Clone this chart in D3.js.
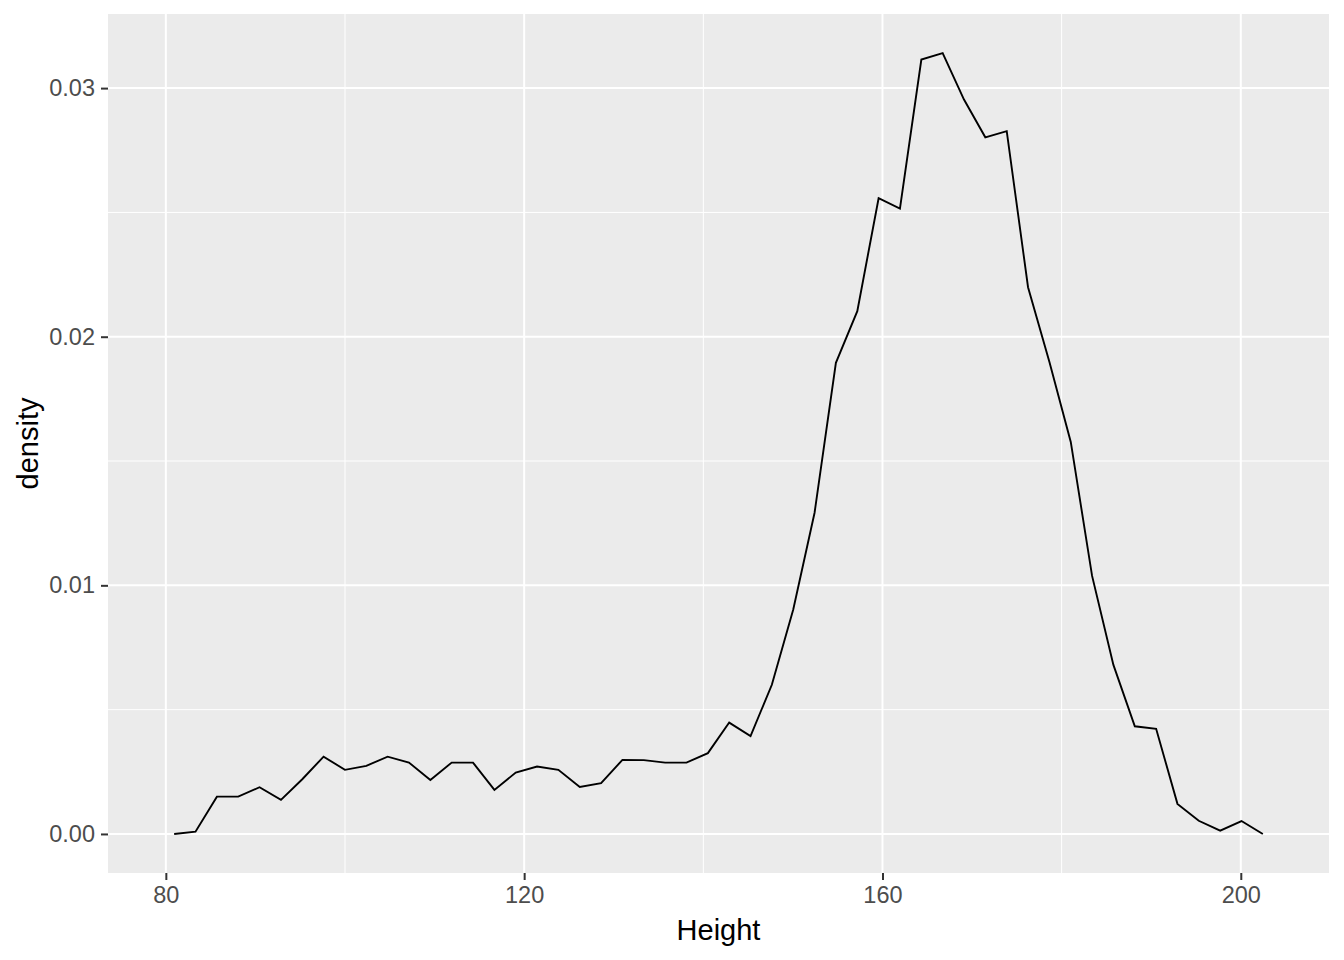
<!DOCTYPE html>
<html>
<head>
<meta charset="utf-8">
<script src="https://cdn.jsdelivr.net/npm/d3@7"></script>
<style>
  html, body { margin: 0; padding: 0; background: #ffffff; }
  svg { display: block; }
  text { font-family: "Liberation Sans", Arial, sans-serif; }
</style>
</head>
<body>
<svg id="chart" width="1344" height="960"></svg>
<script>
// Bin centres (Height)
const heights = [
  80.93, 83.31, 85.70, 88.08, 90.46, 92.85, 95.23, 97.61, 99.99, 102.38,
  104.76, 107.14, 109.53, 111.91, 114.29, 116.68, 119.06, 121.44, 123.82, 126.21,
  128.59, 130.97, 133.36, 135.74, 138.12, 140.51, 142.89, 145.27, 147.65, 150.04,
  152.42, 154.80, 157.19, 159.57, 161.95, 164.34, 166.72, 169.10, 171.48, 173.87,
  176.25, 178.63, 181.02, 183.40, 185.78, 188.17, 190.55, 192.93, 195.31, 197.70,
  200.08, 202.46
];
// Density values
const densities = [
  0.00000, 0.00009, 0.00150, 0.00150, 0.00188, 0.00137, 0.00220, 0.00311, 0.00258, 0.00274,
  0.00311, 0.00287, 0.00217, 0.00287, 0.00287, 0.00177, 0.00247, 0.00271, 0.00258, 0.00189,
  0.00204, 0.00298, 0.00297, 0.00287, 0.00287, 0.00325, 0.00448, 0.00394, 0.00600, 0.00903,
  0.01292, 0.01895, 0.02103, 0.02557, 0.02515, 0.03115, 0.03141, 0.02954, 0.02802, 0.02827,
  0.02199, 0.01899, 0.01577, 0.01038, 0.00680, 0.00433, 0.00423, 0.00121, 0.00053, 0.00013,
  0.00052, 0.00000
];
const binWidth = 2.383;
const xTicks = [80, 120, 160, 200];
const xMinor = [60, 100, 140, 180, 220];
const yTicks = [0, 0.01, 0.02, 0.03];
const yMinor = [0.005, 0.015, 0.025];
const yTickLabels = ["0.00", "0.01", "0.02", "0.03"];
const xTitle = "Height";
const yTitle = "density";

const panel = { left: 108, right: 1329, top: 14, bottom: 873 };

// x domain: bin edges, expanded 5%
const xLo = d3.min(heights) - binWidth / 2, xHi = d3.max(heights) + binWidth / 2;
const xPad = (xHi - xLo) * 0.05;
const x = d3.scaleLinear().domain([xLo - xPad, xHi + xPad]).range([panel.left, panel.right]);
const yLo = 0, yHi = d3.max(densities);
const yPad = (yHi - yLo) * 0.05;
const y = d3.scaleLinear().domain([yLo - yPad, yHi + yPad]).range([panel.bottom, panel.top]);

const svg = d3.select("#chart");

svg.append("rect")
  .attr("x", panel.left).attr("y", panel.top)
  .attr("width", panel.right - panel.left).attr("height", panel.bottom - panel.top)
  .attr("fill", "#EBEBEB");

const grid = svg.append("g");
const [dx0, dx1] = x.domain();
const [dy0, dy1] = y.domain();
// minor grid
grid.selectAll("line.xminor").data(xMinor.filter(v => v >= dx0 && v <= dx1)).join("line")
  .attr("x1", d => x(d)).attr("x2", d => x(d))
  .attr("y1", panel.top).attr("y2", panel.bottom)
  .attr("stroke", "#ffffff").attr("stroke-width", 1);
grid.selectAll("line.yminor").data(yMinor.filter(v => v >= dy0 && v <= dy1)).join("line")
  .attr("y1", d => y(d)).attr("y2", d => y(d))
  .attr("x1", panel.left).attr("x2", panel.right)
  .attr("stroke", "#ffffff").attr("stroke-width", 1);
// major grid
grid.append("g").selectAll("line").data(xTicks).join("line")
  .attr("x1", d => x(d)).attr("x2", d => x(d))
  .attr("y1", panel.top).attr("y2", panel.bottom)
  .attr("stroke", "#ffffff").attr("stroke-width", 2);
grid.append("g").selectAll("line").data(yTicks).join("line")
  .attr("y1", d => y(d)).attr("y2", d => y(d))
  .attr("x1", panel.left).attr("x2", panel.right)
  .attr("stroke", "#ffffff").attr("stroke-width", 2);

// line
const pts = heights.map((h, i) => [h, densities[i]]);
svg.append("path")
  .datum(pts)
  .attr("fill", "none")
  .attr("stroke", "#000000")
  .attr("stroke-width", 1.9)
  .attr("stroke-linejoin", "miter")
  .attr("d", d3.line().x(d => x(d[0])).y(d => y(d[1])));

// axes
const xAxis = d3.axisBottom(x).tickValues(xTicks).tickSize(7).tickPadding(6).tickFormat(d3.format("d"));
const gx = svg.append("g").attr("transform", `translate(0,${panel.bottom})`).call(xAxis);
gx.select(".domain").remove();
gx.selectAll(".tick line").attr("stroke", "#333333").attr("stroke-width", 2);
gx.selectAll(".tick text").attr("fill", "#4D4D4D").attr("font-size", 23.5)
  .attr("font-family", "Liberation Sans, Arial, sans-serif");

const yAxis = d3.axisLeft(y).tickValues(yTicks).tickSize(7).tickPadding(6)
  .tickFormat((d, i) => yTickLabels[i]);
const gy = svg.append("g").attr("transform", `translate(${panel.left},0)`).call(yAxis);
gy.select(".domain").remove();
gy.selectAll(".tick line").attr("stroke", "#333333").attr("stroke-width", 2);
gy.selectAll(".tick text").attr("fill", "#4D4D4D").attr("font-size", 23.5)
  .attr("font-family", "Liberation Sans, Arial, sans-serif");

// titles
svg.append("text")
  .attr("x", (panel.left + panel.right) / 2).attr("y", 940)
  .attr("text-anchor", "middle").attr("font-size", 29).attr("fill", "#000000")
  .text(xTitle);
svg.append("text")
  .attr("transform", `translate(38,${(panel.top + panel.bottom) / 2}) rotate(-90)`)
  .attr("text-anchor", "middle").attr("font-size", 29).attr("fill", "#000000")
  .text(yTitle);
</script>
</body>
</html>
